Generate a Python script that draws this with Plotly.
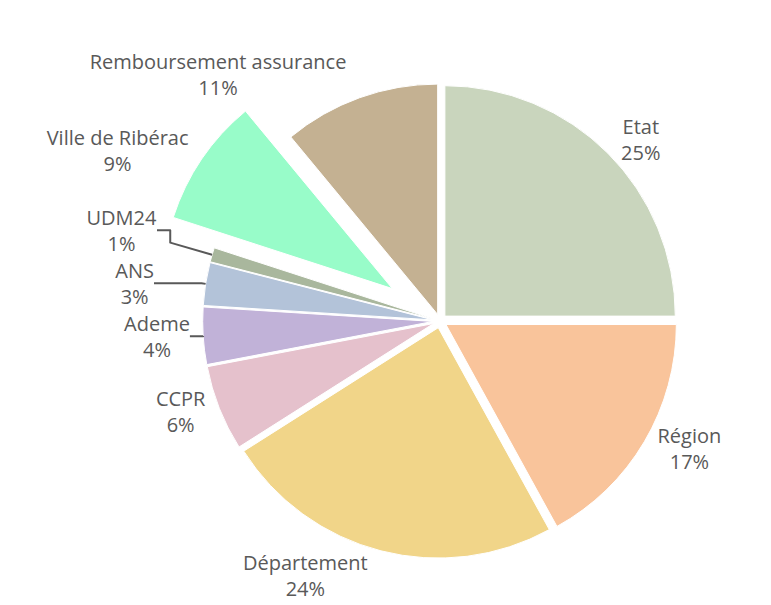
import plotly.graph_objects as go

labels = ["Etat", "Région", "Département", "CCPR", "Ademe", "ANS", "UDM24",
          "Ville de Ribérac", "Remboursement assurance"]
values = [25, 17, 24, 6, 4, 3, 1, 9, 11]
colors = ["#c9d5bd", "#f9c49b", "#f1d589", "#e5c1cc", "#c1b2d8", "#b3c3d9",
          "#a9b79d", "#98fcc9", "#c4b192"]
pulls = [0.03, 0.03, 0.03, 0.03, 0.03, 0.03, 0.03, 0.25, 0.03]

fig = go.Figure(go.Pie(
    labels=labels, values=values, sort=False, direction="clockwise", rotation=0,
    pull=pulls,
    marker=dict(colors=colors, line=dict(color="white", width=1)),
    texttemplate="%{label}<br>%{percent:.0%}",
    textposition="outside",
    automargin=False,
    textfont=dict(family="Open Sans", size=20, color="#595959"),
    showlegend=False,
    domain=dict(x=[0.0, 1.0], y=[0.0, 1.0]),
))
fig.update_layout(
    width=771, height=605,
    margin=dict(l=144, r=51, t=25, b=4),
    paper_bgcolor="white", plot_bgcolor="white",
)
fig.write_html("out.html")
